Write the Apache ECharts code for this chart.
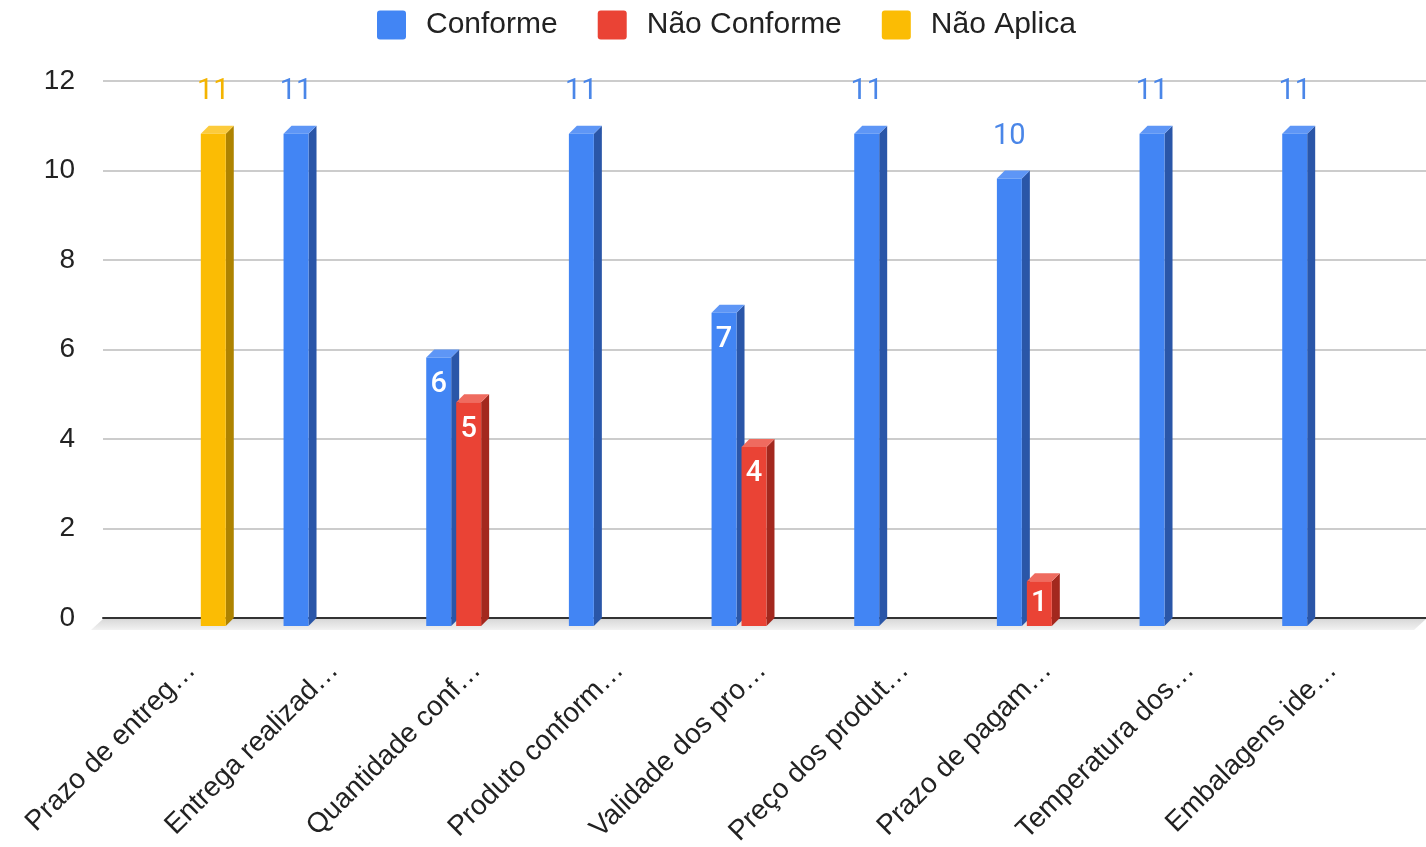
<!DOCTYPE html>
<html>
<head>
<meta charset="utf-8">
<script src="https://cdn.jsdelivr.net/npm/echarts@6/dist/echarts.min.js"></script>
<style>html,body{margin:0;padding:0;background:#fff;}#c{width:1426px;height:847px;}</style>
</head>
<body>
<div id="c"></div>
<script>
const categories = ['Prazo de entreg…', 'Entrega realizad…', 'Quantidade conf…', 'Produto conform…', 'Validade dos pro…', 'Preço dos produt…', 'Prazo de pagam…', 'Temperatura dos…', 'Embalagens ide…'];
const seriesNames = ['Conforme', 'Não Conforme', 'Não Aplica'];
const conforme = [null, 11, 6, 11, 7, 11, 10, 11, 11];
const naoConforme = [null, null, 5, null, 4, null, 1, null, null];
const naoAplica = [11, null, null, null, null, null, null, null, null];
const yTicks = [0, 2, 4, 6, 8, 10, 12];

const palette = [
  {front: '#4285F4', side: '#2A56A8', top: '#5E96F6', label: '#4A86E8'},
  {front: '#EA4335', side: '#A3281E', top: '#EF6B5F', label: '#EA4335'},
  {front: '#FBBC04', side: '#AE8300', top: '#FCCB3C', label: '#F4B400'}
];
const seriesValues = [conforme, naoConforme, naoAplica];

const DEPTH = 8;
function makeRender(k) {
  return function (params, api) {
    const v = api.value(1);
    if (v == null || isNaN(v)) return;
    const ci = api.value(0);
    const band = api.size([1, 0])[0];
    const barW = band * 0.175;
    const step = band * 0.21;
    const pTop = api.coord([ci, v]);
    const pBase = api.coord([ci, 0]);
    const backCx = pTop[0] + (k - 1) * step;
    const fx1 = backCx - DEPTH - barW / 2;
    const fx2 = backCx - DEPTH + barW / 2;
    const ft = pTop[1] + DEPTH;
    const fb = pBase[1] + DEPTH;
    const c = palette[k];
    const children = [
      {type: 'polygon', shape: {points: [[fx2, ft], [fx2 + DEPTH, ft - DEPTH], [fx2 + DEPTH, fb - DEPTH], [fx2, fb]]}, style: {fill: c.side}},
      {type: 'polygon', shape: {points: [[fx1, ft], [fx1 + DEPTH, ft - DEPTH], [fx2 + DEPTH, ft - DEPTH], [fx2, ft]]}, style: {fill: c.top}},
      {type: 'rect', shape: {x: fx1, y: ft, width: fx2 - fx1, height: fb - ft}, style: {fill: c.front}}
    ];
    const inside = v < 10;
    const ly = inside ? Math.min(pTop[1] + 35, (ft + fb) / 2) : pTop[1] - 34;
    children.push({
      type: 'text',
      style: {
        text: String(v), x: (fx1 + fx2) / 2, y: ly,
        align: 'center', verticalAlign: 'middle',
        fontFamily: 'Roboto', fontSize: 29, fontWeight: inside ? 500 : 400,
        fill: inside ? '#ffffff' : c.label
      }
    });
    return {type: 'group', children: children};
  };
}

const chart = echarts.init(document.getElementById('c'));
const option = {
  animation: false,
  backgroundColor: '#ffffff',
  color: palette.map(p => p.front),
  legend: {
    top: 5, left: 372,
    itemWidth: 29, itemHeight: 29, itemGap: 40,
    icon: 'path://M3,0 H26 Q29,0 29,3 V26 Q29,29 26,29 H3 Q0,29 0,26 V3 Q0,0 3,0 Z',
    textStyle: {fontFamily: 'Liberation Sans, Arial', fontSize: 30, color: '#222', padding: [0, 0, 0, 15]},
    data: seriesNames
  },
  grid: [
    {left: 103, right: 0, top: 81, bottom: 229, outerBoundsMode: 'none', containLabel: false},
    {left: 120, right: 22, top: 81, bottom: 229, outerBoundsMode: 'none', containLabel: false}
  ],
  xAxis: [
    {type: 'category', gridIndex: 0, data: categories, axisLine: {show: true, lineStyle: {color: '#333', width: 2}}, axisTick: {show: false}, axisLabel: {show: false}, splitLine: {show: false}},
    {type: 'category', gridIndex: 1, data: categories, axisLine: {show: false}, axisTick: {show: false},
     axisLabel: {rotate: 45, margin: 48, interval: 0, fontFamily: 'Liberation Sans, Arial', fontSize: 28, color: '#222'}}
  ],
  yAxis: [
    {type: 'value', gridIndex: 0, min: yTicks[0], max: yTicks[yTicks.length - 1], interval: 2,
     axisLine: {show: false}, axisTick: {show: false},
     axisLabel: {margin: 28, fontFamily: 'Liberation Sans, Arial', fontSize: 28, color: '#222'},
     splitLine: {lineStyle: {color: '#cccccc', width: 2}}},
    {type: 'value', gridIndex: 1, min: yTicks[0], max: yTicks[yTicks.length - 1], interval: 2, show: false, splitLine: {show: false}}
  ],
  series: seriesNames.map((name, k) => ({
    name: name,
    type: 'custom',
    xAxisIndex: 1, yAxisIndex: 1,
    z: 5,
    renderItem: makeRender(k),
    encode: {x: 0, y: 1},
    data: seriesValues[k].map((v, i) => [i, v == null ? '-' : v])
  }))
};
chart.setOption(option);

// 3D floor band under the base line
const g0 = chart.getModel().getComponent('grid', 0).coordinateSystem.getRect();
const baseY = chart.convertToPixel({yAxisIndex: 0}, 0);
chart.setOption({
  graphic: [{
    type: 'polygon', z: 1,
    shape: {points: [[g0.x, baseY + 1], [g0.x + g0.width, baseY + 1], [g0.x + g0.width - 12, baseY + 12], [g0.x - 12, baseY + 12]]},
    style: {fill: new echarts.graphic.LinearGradient(0, 0, 0, 1, [{offset: 0, color: '#d8d8d8'}, {offset: 1, color: '#f2f2f2'}])}
  }]
});
</script>
</body>
</html>
